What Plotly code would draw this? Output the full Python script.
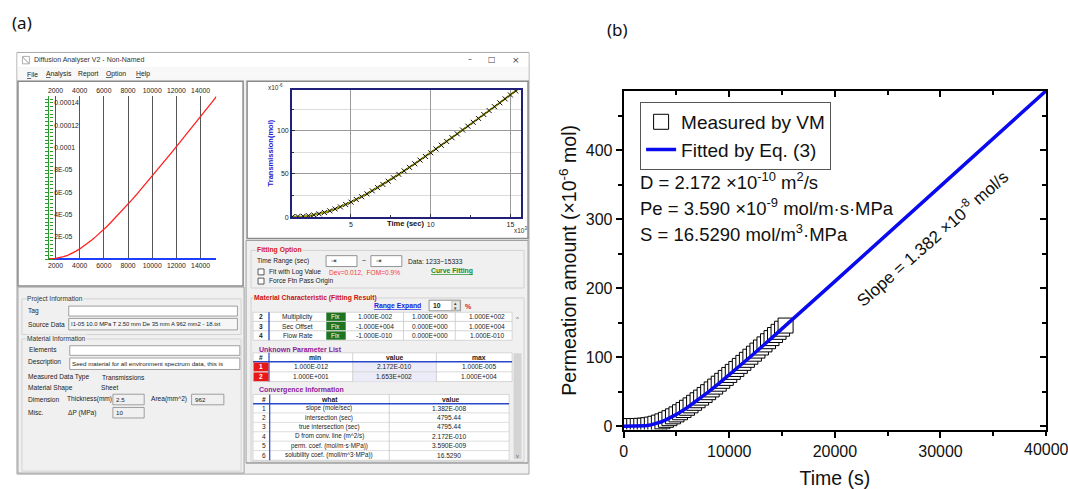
import plotly.graph_objects as go

W, H = 1068, 489

# ---------------- data ----------------
time_s = [333, 667, 1000, 1333, 1667, 2000, 2333, 2667, 3000, 3333, 3667, 4000,
          4333, 4667, 5000, 5333, 5667, 6000, 6333, 6667, 7000, 7333, 7667, 8000,
          8333, 8667, 9000, 9333, 9667, 10000, 10333, 10667, 11000, 11333, 11667,
          12000, 12333, 12667, 13000, 13333, 13667, 14000, 14333, 14667, 15000, 15333]
measured_umol = [0.3, 0.3, 0.4, 0.5, 0.7, 1.0, 1.6, 2.5, 3.7, 5.3, 7.2, 9.4,
                 11.8, 14.5, 17.3, 20.4, 23.6, 26.9, 30.4, 34.1, 37.8, 41.6, 45.5, 49.5,
                 53.5, 57.6, 61.8, 66.0, 70.2, 74.5, 78.9, 83.2, 87.6, 92.0, 96.4,
                 100.9, 105.3, 109.8, 114.3, 118.8, 123.4, 127.9, 132.4, 137.0, 141.5, 146.1]
fit_time_s = [0, 1000, 1500, 2000, 2500, 3000, 3500, 4000, 5000, 6000, 7000, 8000,
              9000, 10000, 12000, 14000, 16000, 20000, 30000, 40000]
fit_umol = [0, 0.05, 0.15, 0.67, 1.82, 3.66, 6.19, 9.35, 17.3, 26.9, 37.8, 49.5,
            61.8, 74.5, 100.9, 127.9, 155.2, 210.2, 348.3, 486.5]

b_xticks = [0, 10000, 20000, 30000, 40000]
b_yticks = [0, 100, 200, 300, 400]
swl_xticks = [2000, 4000, 6000, 8000, 10000, 12000, 14000]
swl_yticks = [2e-05, 4e-05, 6e-05, 8e-05, 1e-04, 1.2e-04, 1.4e-04]
swl_ytext = ["2E-05", "4E-05", "6E-05", "8E-05", "0.0001", "0.00012", "0.00014"]
swr_xticks = [5, 10, 15]
swr_yticks = [0, 50, 100]

mat_num = ["2", "3", "4"]
mat_name = ["Multiplicity", "Sec Offset", "Flow Rate"]
mat_min = ["1.000E-002", "-1.000E+004", "-1.000E-010"]
mat_val = ["1.000E+000", "0.000E+000", "0.000E+000"]
mat_max = ["1.000E+002", "1.000E+004", "1.000E-010"]
unk_min = ["1.000E-012", "1.000E+001"]
unk_val = ["2.172E-010", "1.653E+002"]
unk_max = ["1.000E-005", "1.000E+004"]
conv_what = ["slope (mole/sec)", "intersection (sec)", "true intersection (sec)",
             "D from conv. line (m^2/s)", "perm. coef. (mol/m·s·MPa))",
             "solubility coef. (moll/m^3·MPa))"]
conv_value = ["1.382E-008", "4795.44", "4795.44", "2.172E-010", "3.590E-009", "16.5290"]

# ---------------- helpers ----------------
def px(x):
    return x / W


def py(y):
    return 1 - y / H


UI = "Liberation Sans"
ARIAL = "Arial, Liberation Sans"
SYM = "DejaVu Sans"
shapes = []
ann = []


def rect(x0, y0, x1, y1, fill="rgba(0,0,0,0)", line="rgba(0,0,0,0)", lw=0, layer="below"):
    shapes.append(dict(type="rect", xref="paper", yref="paper", x0=px(x0), x1=px(x1),
                       y0=py(y1), y1=py(y0), fillcolor=fill,
                       line=dict(color=line, width=lw), layer=layer))


def seg(x0, y0, x1, y1, color, lw=1, layer="below"):
    shapes.append(dict(type="line", xref="paper", yref="paper", x0=px(x0), x1=px(x1),
                       y0=py(y0), y1=py(y1), line=dict(color=color, width=lw), layer=layer))


def T(x, y, s, size=6.6, color="#222", anchor="left", family=UI, angle=0, bg=None):
    d = dict(x=px(x), y=py(y), xref="paper", yref="paper", text=s, showarrow=False,
             xanchor=anchor, yanchor="middle", textangle=angle, borderpad=0,
             font=dict(size=size, color=color, family=family))
    if bg:
        d["bgcolor"] = bg
    ann.append(d)


# ---------------- panel (a): application window ----------------
rect(13, 53, 527, 479, "#f0f0f0", "#a8a8a8", 1)
rect(13.5, 53.5, 526.5, 68, "white")
rect(13.5, 68, 526.5, 80.5, "#f8f8f8")
rect(18.5, 57, 25.5, 64.5, "white", "#9a9a9a", 0.8)
seg(19, 58, 25, 64, "#777", 0.8)
T(29, 61, "Diffusion Analyser V2 - Non-Named", 7, "#333")
T(467.3, 60.5, "–", 8, "#444", "center", SYM)
T(490, 60.5, "□", 8, "#444", "center", SYM)
T(513.5, 60.5, "×", 9, "#444", "center", SYM)
T(21.7, 75, "<u>F</u>ile", 6.8)
T(41, 75, "<u>A</u>nalysis", 6.8)
T(73.3, 75, "Report", 6.8)
T(101.7, 75, "<u>O</u>ption", 6.8)
T(131.7, 75, "<u>H</u>elp", 6.8)

# chart panels
rect(14, 82, 240, 289, "white", "#8a8a8a", 1.5)
rect(244, 82, 526, 241, "white", "#8a8a8a", 1.5)

# lower-left panel
rect(14, 290, 241, 478, "#f0f0f0", "#a0a0a0", 1)
rect(18, 302, 238, 338, line="#d2d2d2", lw=1)
rect(18, 342.5, 238, 476, line="#d2d2d2", lw=1)
T(21.7, 301.7, "Project Information", 6.6, "#333", bg="#f0f0f0")
T(23.3, 314.3, "Tag")
rect(65, 309.3, 234.3, 319.3, "white", "#8a8a8a", 0.8)
T(23.3, 327.5, "Source Data")
rect(65, 321.7, 234.3, 333.3, "#f6f6f6", "#8a8a8a", 0.8)
T(66.5, 327.5, "I1-05 10.0 MPa T 2.50 mm De 35 mm A 962 mm2 - 18.txt", 5.9)
T(21.7, 342.3, "Material Information", 6.6, "#333", bg="#f0f0f0")
T(24, 353.3, "Elements")
rect(66, 349.3, 236.7, 359, "white", "#8a8a8a", 0.8)
T(23.3, 366, "Description")
rect(66, 361.7, 236.7, 373.3, "white", "#8a8a8a", 0.8)
T(67.5, 367.3, "Seed material for all environment spectrum data, this is", 6.2)
T(23.3, 381, "Measured Data Type")
T(97.7, 381, "Transmissions")
T(23.3, 392, "Material Shape")
T(96.7, 392, "Sheet")
T(23.3, 403.3, "Dimension")
T(62.7, 403.3, "Thickness(mm)")
rect(109.3, 398.3, 140.7, 409, "#f0f0f0", "#8a8a8a", 0.8)
T(111, 403.3, "2.5", 6.2)
T(146.7, 403.3, "Area(mm^2)")
rect(188.3, 398.3, 220.7, 409, "#f0f0f0", "#8a8a8a", 0.8)
T(190.7, 403.3, "962", 6.2)
T(23.3, 417, "Misc.")
T(63.3, 417, "ΔP (MPa)")
rect(109.3, 411.7, 140.7, 422.3, "#f0f0f0", "#8a8a8a", 0.8)
T(111.7, 417, "10", 6.2)

# lower-right panel
rect(243, 243, 526, 468, "#f0f0f0", "#a0a0a0", 1)
rect(248, 253, 522, 291, line="#d2d2d2", lw=1)
T(252.7, 252.7, "<b>Fitting Option</b>", 6.8, "#d42020", bg="#f0f0f0")
T(252.7, 264, "Time Range (sec)")
rect(323.3, 258.3, 354.3, 269.3, "white", "#7a7a7a", 0.8)
T(327, 263.8, "⇥", 6.5, "#222", "left", SYM)
T(361.7, 263.5, "~", 7, "#222", "center")
rect(368.3, 258.3, 399.3, 269.3, "white", "#7a7a7a", 0.8)
T(372, 263.8, "⇥", 6.5, "#222", "left", SYM)
T(405, 264, "Data: 1233~15333")
rect(255, 271.7, 261, 277.7, "white", "#333", 0.8)
T(265, 274.7, "Fit with Log Value")
T(325, 275.3, "Dev=0.012,  FOM=0.9%", 6.6, "#f04040")
T(427.3, 274.3, "<b><u>Curve Fitting</u></b>", 6.8, "#1a8a1a")
rect(255, 281, 261, 287, "white", "#333", 0.8)
T(265, 284, "Force Ftn Pass Origin")

rect(248, 301, 522, 466, line="#d2d2d2", lw=1)
T(250, 301, "<b>Material Characteristic (Fitting Result)</b>", 6.8, "#cc1010", bg="#f0f0f0")
T(395, 309, "<b><u>Range Expand</u></b>", 6.8, "#2020e0", "center")
rect(426.7, 303.3, 458.3, 314, "white", "#7a7a7a", 0.8)
T(429.5, 308.7, "<b>10</b>", 6.8)
rect(449.5, 304, 457.5, 313.3, "#e8e8e8", "#aaaaaa", 0.6)
T(453.5, 306.3, "▴", 5, "#444", "center", SYM)
T(453.5, 311.3, "▾", 5, "#444", "center", SYM)
T(466, 309.5, "<b>%</b>", 7, "#d42020", "center")

# material table
mat_y = [320, 329.4, 339]
rect(250, 315.5, 510, 343.8, "white", "#c0c0c0", 0.6)
seg(250, 324.7, 510, 324.7, "#c8c8c8", 0.8)
seg(250, 334.2, 510, 334.2, "#c8c8c8", 0.8)
seg(266, 315.5, 266, 343.8, "#2848c8", 1.3)
seg(401, 315.5, 401, 343.8, "#c8c8c8", 0.8)
seg(453, 315.5, 453, 343.8, "#c8c8c8", 0.8)
for i, yy in enumerate(mat_y):
    rect(323.5, yy - 4.2, 343, yy + 4.2, "#1f741f")
    T(333.2, yy, "Fix", 6.4, "white", "center")
    T(258.3, yy, "<b>" + mat_num[i] + "</b>", 6.6, "#222", "center")
    T(295, yy, mat_name[i], 6.6, "#222", "center")
    T(372, yy, mat_min[i], 6.6, "#222", "center")
    T(428, yy, mat_val[i], 6.6, "#222", "center")
    T(485, yy, mat_max[i], 6.6, "#222", "center")
T(515, 322, "^", 6, "#555", "center")

# unknown parameter list
T(255, 352.7, "<b>Unknown Parameter List</b>", 7, "#8b1a9b")
rect(250, 356.5, 510, 385.5, "white", "#c0c0c0", 0.6)
rect(350, 365.5, 434, 385.5, "#ececf8")
seg(250, 375.7, 510, 375.7, "#d0d0d0", 0.8)
seg(350, 356.5, 350, 385.5, "#c8c8c8", 0.8)
seg(434, 356.5, 434, 385.5, "#c8c8c8", 0.8)
seg(266, 356.5, 266, 385.5, "#2848c8", 1.2)
seg(250, 365.5, 510, 365.5, "#2848c8", 1.5)
T(258, 361, "<b>#</b>", 6.6, "#222", "center")
T(312, 361, "<b>min</b>", 6.8, "#222", "center")
T(392, 361, "<b>value</b>", 6.8, "#222", "center")
T(477, 361, "<b>max</b>", 6.8, "#222", "center")
for i, yy in enumerate([370.7, 380.7]):
    rect(250.5, yy - 4.4, 265.5, yy + 4.4, "#e81818")
    T(258, yy, "<b>%d</b>" % (i + 1), 6.6, "white", "center")
    T(308.3, yy, unk_min[i], 6.6, "#222", "center")
    T(391.7, yy, unk_val[i], 6.6, "#222", "center")
    T(476.7, yy, unk_max[i], 6.6, "#222", "center")

# convergence information
T(255, 394.3, "<b>Convergence Information</b>", 7, "#8b1a9b")
rect(250, 398.5, 507, 465, "white", "#c0c0c0", 0.6)
conv_y = [412.3, 422, 431.3, 441, 450.3, 460]
for b in [417.2, 426.7, 436.2, 445.7, 455.2]:
    seg(250, b, 507, b, "#d4d4d4", 0.8)
seg(386.7, 398.5, 386.7, 465, "#c8c8c8", 0.8)
seg(266.7, 398.5, 266.7, 465, "#2848c8", 1.2)
seg(250, 408, 507, 408, "#2848c8", 1.5)
T(260.7, 403.3, "<b>#</b>", 6.6, "#222", "center")
T(326.7, 403.3, "<b>what</b>", 6.8, "#222", "center")
T(448.3, 403.3, "<b>value</b>", 6.8, "#222", "center")
for i, yy in enumerate(conv_y):
    T(260.7, yy, str(i + 1), 6.6, "#222", "center")
    T(326.7, yy, conv_what[i], 6.3, "#222", "center")
    T(446.7, yy, conv_value[i], 6.6, "#222", "center")
rect(511.5, 357, 519.5, 464, "#d4d4d4")
T(515.3, 460.5, "v", 5.5, "#555", "center")
seg(243, 467.5, 526, 467.5, "#a0a0a0", 1)

# software chart decorations
T(273, 88, "x10<sup>-6</sup>", 6.5, "#333", "center")
T(518, 232.5, "x10<sup>3</sup>", 6.5, "#333", "center")
T(403, 225.5, "<b>Time (sec)</b>", 7.5, "#111", "center")
T(267, 155, "<b>Transmission(mol)</b>", 7.5, "#2020d0", "center", angle=-90)

# ---------------- panel (b) text ----------------
T(637, 183.3, "D = 2.172 ×10<sup>-10</sup> m<sup>2</sup>/s", 18.5, "#111", family=ARIAL)
T(637, 209.3, "Pe = 3.590 ×10<sup>-9</sup> mol/m·s·MPa", 18.5, "#111", family=ARIAL)
T(637, 235, "S = 16.5290 mol/m<sup>3</sup>·MPa", 18.5, "#111", family=ARIAL)
T(930.8, 240, "Slope = 1.382 ×10<sup>-8</sup> mol/s", 17, "#111", "center", ARIAL, angle=-41.4)
T(7, 23, "(a)", 17, "#111", family="Noto Sans")
T(604.5, 30, "(b)", 17, "#111", family="Noto Sans")
# last x tick label of panel (b), which runs off the right edge of the picture
ann.append(dict(x=b_xticks[-1], xref="x2", y=py(454), yref="paper",
                text=str(b_xticks[-1]), showarrow=False, xanchor="center",
                yanchor="middle", borderpad=0,
                font=dict(family=ARIAL, size=16, color="#111")))

# ---------------- traces ----------------
fig = go.Figure()

# left software chart (raw transmission, mol)
fig.add_trace(go.Scatter(x=time_s, y=[v * 1e-6 for v in measured_umol], mode="lines",
                         line=dict(color="#ff2020", width=1.3), xaxis="x", yaxis="y",
                         showlegend=False, hoverinfo="skip"))
fig.add_trace(go.Scatter(x=[None], y=[None], xaxis="x5", yaxis="y", showlegend=False,
                         hoverinfo="skip"))
fig.add_trace(go.Scatter(x=[None], y=[None], xaxis="x", yaxis="y6", showlegend=False,
                         hoverinfo="skip"))

# right software chart (x10^3 s, x10^-6 mol)
fig.add_trace(go.Scatter(x=[t / 1000 for t in fit_time_s], y=fit_umol, mode="lines",
                         line=dict(color="#9a9a00", width=2), xaxis="x4", yaxis="y4",
                         showlegend=False, hoverinfo="skip"))
fig.add_trace(go.Scatter(x=[t / 1000 for t in time_s], y=measured_umol, mode="markers",
                         marker=dict(symbol="x-thin", size=5, line=dict(color="#111", width=1)),
                         xaxis="x4", yaxis="y4", showlegend=False, hoverinfo="skip"))

# panel (b)
fig.add_trace(go.Scatter(x=time_s, y=measured_umol, mode="markers", name="Measured by VM",
                         marker=dict(symbol="square", size=15, color="white",
                                     line=dict(color="black", width=1)),
                         xaxis="x2", yaxis="y2"))
fig.add_trace(go.Scatter(x=fit_time_s, y=fit_umol, mode="lines", name="Fitted by Eq. (3)",
                         line=dict(color="#0a0aee", width=3.5), xaxis="x2", yaxis="y2"))
fig.add_trace(go.Scatter(x=[None], y=[None], xaxis="x3", yaxis="y2", showlegend=False,
                         hoverinfo="skip"))
fig.add_trace(go.Scatter(x=[None], y=[None], xaxis="x2", yaxis="y3", showlegend=False,
                         hoverinfo="skip"))

bfont = dict(family=ARIAL, size=16, color="#111")
b_xrange = [0, 40000]
b_yrange = [-4.7, 486.1]
swl_xrange = [1448, 15294]
swl_yrange = [-0.8e-6, 146.5e-6]
GREEN = "#2a9a2a"

fig.update_layout(
    # initial size leaves room for the page's default 8px body margin;
    # the post script removes that margin and restores the full 1068x489 size
    width=W - 16, height=H - 16, autosize=False,
    margin=dict(l=0, r=0, t=0, b=0),
    paper_bgcolor="white", plot_bgcolor="white",
    shapes=shapes, annotations=ann,
    showlegend=True,
    legend=dict(x=px(638.5), y=py(103), xanchor="left", yanchor="top",
                bgcolor="white", bordercolor="#555", borderwidth=1,
                font=dict(family=ARIAL, size=19, color="#111"), tracegroupgap=0),
    # left software chart
    xaxis=dict(domain=[px(45), px(213)], range=swl_xrange, anchor="y",
               tickmode="array", tickvals=swl_xticks, ticks="", showline=False,
               showgrid=True, gridcolor="#555", gridwidth=1.3, zeroline=False,
               tickformat="d", tickfont=dict(family=UI, size=6.8, color="#222")),
    xaxis5=dict(overlaying="x", anchor="y", side="top", range=swl_xrange,
                tickmode="array", tickvals=swl_xticks, ticks="", showline=False,
                showgrid=False, zeroline=False, tickformat="d",
                tickfont=dict(family=UI, size=6.8, color="#222")),
    yaxis=dict(domain=[py(263), py(96.7)], range=swl_yrange, anchor="x",
               tickmode="array", tickvals=swl_yticks, showticklabels=False,
               ticks="outside", ticklen=3, tickcolor=GREEN,
               showline=True, linecolor=GREEN, linewidth=1, showgrid=False,
               zeroline=True, zerolinecolor="#1f3fff", zerolinewidth=2,
               minor=dict(dtick=3.3333e-06, tick0=0, ticks="outside", ticklen=3,
                          tickcolor=GREEN, showgrid=False)),
    yaxis6=dict(overlaying="y", anchor="free", position=px(45), side="right",
                range=swl_yrange, tickmode="array", tickvals=swl_yticks,
                ticktext=swl_ytext, ticks="outside", ticklen=3, tickcolor=GREEN,
                showline=False, showgrid=False, zeroline=False,
                minor=dict(dtick=3.3333e-06, tick0=0, ticks="outside", ticklen=3,
                           tickcolor=GREEN, showgrid=False),
                tickfont=dict(family=UI, size=6.8, color="#222")),
    # right software chart
    xaxis4=dict(domain=[px(289), px(518.7)], range=[1.294, 15.65], anchor="y4",
                tickmode="array", tickvals=swr_xticks, ticks="inside", ticklen=3,
                tickcolor="#333", showgrid=True, gridcolor="#9a9a9a", gridwidth=1,
                showline=True, mirror=True, linecolor="#20207a", linewidth=1.5,
                zeroline=False, minor=dict(tickvals=[2.5, 7.5, 12.5], ticks="inside",
                                           ticklen=2, tickcolor="#333"),
                tickfont=dict(family=UI, size=7, color="#222")),
    yaxis4=dict(domain=[py(219.3), py(90.7)], range=[0, 147.5], anchor="x4",
                tickmode="array", tickvals=swr_yticks, ticks="inside", ticklen=3,
                tickcolor="#333", showgrid=True, gridcolor="#9a9a9a", gridwidth=1,
                showline=True, mirror=True, linecolor="#20207a", linewidth=1.5,
                zeroline=False,
                minor=dict(tickvals=[25, 75, 125], ticks="inside", ticklen=2,
                           tickcolor="#333", showgrid=True, gridcolor="#dcdcdc"),
                tickfont=dict(family=UI, size=7, color="#222")),
    # panel (b)
    xaxis2=dict(domain=[px(622), px(1046)], range=b_xrange, anchor="y2",
                tickmode="array", tickvals=b_xticks[:-1], ticks="outside", ticklen=6,
                tickwidth=1.5, tickcolor="black", showline=True, linecolor="black",
                linewidth=2, showgrid=False, zeroline=False, tickformat="d",
                minor=dict(dtick=5000, tick0=0, ticks="outside", ticklen=4,
                           tickwidth=1.5, tickcolor="black"),
                tickfont=bfont,
                title=dict(text="Time (s)", font=dict(family=ARIAL, size=19.5, color="#111"),
                           standoff=13)),
    xaxis3=dict(overlaying="x2", anchor="y2", side="top", range=b_xrange,
                tickmode="array", tickvals=b_xticks, ticks="inside", ticklen=6,
                tickwidth=1.5, tickcolor="black", showline=True, linecolor="black",
                linewidth=2, showgrid=False, zeroline=False, showticklabels=False,
                minor=dict(dtick=5000, tick0=0, ticks="inside", ticklen=4,
                           tickwidth=1.5, tickcolor="black")),
    yaxis2=dict(domain=[py(434), py(92)], range=b_yrange, anchor="x2",
                tickmode="array", tickvals=b_yticks, ticks="outside", ticklen=6,
                tickwidth=1.5, tickcolor="black", showline=True, linecolor="black",
                linewidth=2, showgrid=False, zeroline=False, tickformat="d",
                minor=dict(dtick=50, tick0=0, ticks="outside", ticklen=4,
                           tickwidth=1.5, tickcolor="black"),
                tickfont=bfont,
                title=dict(text="Permeation amount (×10<sup>-6</sup> mol)",
                           font=dict(family=ARIAL, size=19.5, color="#111"), standoff=4)),
    yaxis3=dict(overlaying="y2", anchor="x2", side="right", range=b_yrange,
                tickmode="array", tickvals=b_yticks, ticks="inside", ticklen=6,
                tickwidth=1.5, tickcolor="black", showline=True, linecolor="black",
                linewidth=2, showgrid=False, zeroline=False, showticklabels=False,
                minor=dict(dtick=50, tick0=0, ticks="inside", ticklen=4,
                           tickwidth=1.5, tickcolor="black")),
)

post = (
    "document.body.style.margin='0px';"
    "document.body.style.overflow='hidden';"
    "var gd=document.getElementById('{plot_id}');"
    "gd.style.width='%dpx';gd.style.height='%dpx';gd.style.overflow='hidden';"
    "Plotly.relayout(gd,{width:%d,height:%d});" % (W, H, W, H)
)
fig.write_html("out.html", config={"displayModeBar": False}, post_script=post)
